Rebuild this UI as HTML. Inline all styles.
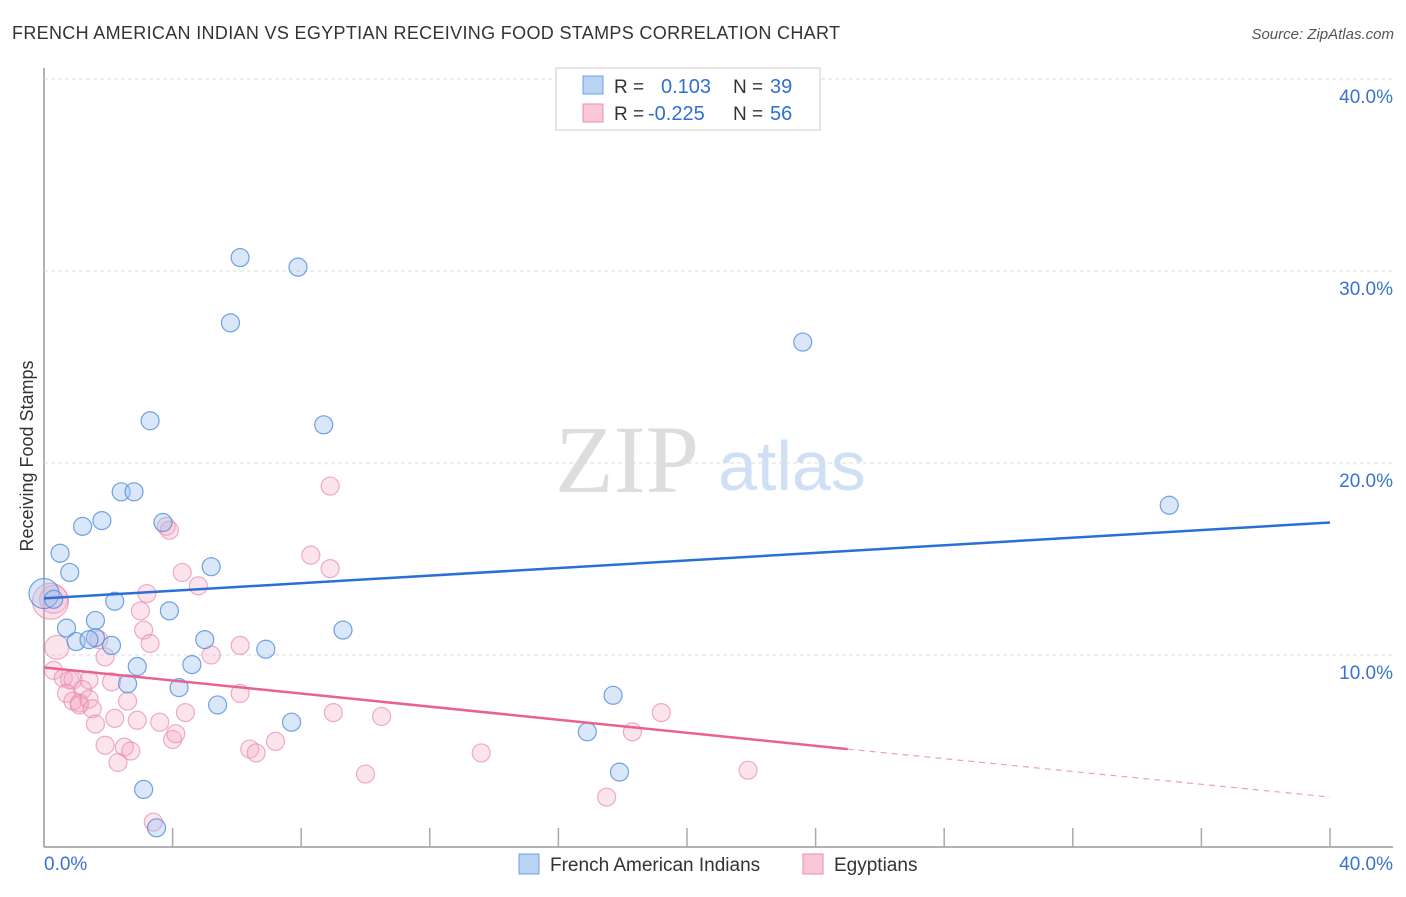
<!DOCTYPE html>
<html><head><meta charset="utf-8"><style>
body{margin:0;background:#fff;font-family:"Liberation Sans",sans-serif;}
svg text{font-family:"Liberation Sans",sans-serif;}
</style></head><body>
<svg id="chart" width="1406" height="892" xmlns="http://www.w3.org/2000/svg">
<text x="12" y="39" font-size="18" fill="#333" textLength="828">FRENCH AMERICAN INDIAN VS EGYPTIAN RECEIVING FOOD STAMPS CORRELATION CHART</text>
<text x="1394" y="39" font-size="15" fill="#555" text-anchor="end" font-style="italic">Source: ZipAtlas.com</text>
<text x="0" y="0" transform="translate(33,456) rotate(-90)" font-size="18" fill="#333" text-anchor="middle">Receiving Food Stamps</text>
<g><text x="555" y="492" font-size="96" fill="#ddd" style="font-family:'Liberation Serif',serif">ZIP</text><text x="718" y="490" font-size="70" fill="#cfe0f5">atlas</text></g>
<g id="grid"></g><g id="pts"></g><g id="lines"></g>
<g>
<rect x="556" y="68" width="264" height="62" fill="#fff" stroke="#ccc"/>
<rect x="583" y="76" width="20" height="18" fill="#b9d3f5" stroke="#6f9fe0"/>
<rect x="583" y="104" width="20" height="18" fill="#f9c7d7" stroke="#ea8fb0"/>
<text x="614" y="93" font-size="19" fill="#333">R = </text><text x="661" y="93" font-size="20" fill="#2f6fd4">0.103</text>
<text x="733" y="93" font-size="19" fill="#333">N = </text><text x="770" y="93" font-size="20" fill="#2f6fd4">39</text>
<text x="614" y="120" font-size="19" fill="#333">R = </text><text x="648" y="120" font-size="20" fill="#2f6fd4">-0.225</text>
<text x="733" y="120" font-size="19" fill="#333">N = </text><text x="770" y="120" font-size="20" fill="#2f6fd4">56</text>
</g>
<g>
<rect x="519" y="854" width="20" height="20" fill="#b9d3f5" stroke="#6f9fe0"/>
<text x="550" y="871" font-size="19" fill="#333">French American Indians</text>
<rect x="803" y="854" width="20" height="20" fill="#f9c7d7" stroke="#ea8fb0"/>
<text x="834" y="871" font-size="19" fill="#333">Egyptians</text>
</g>
</svg>
<script>
const xTicks=[0,4,8,12,16,20,24,28,32,36,40];
const yTicks=[10,20,30,40];
const blueX=[6.1,7.9,5.8,23.6,3.3,8.7,35,2.4,2.8,1.8,1.2,3.7,0.5,0.8,5.2,0,0.3,2.2,3.9,1.6,0.7,9.3,1.6,1.0,1.4,2.1,5,6.9,4.6,2.9,2.6,4.2,17.7,5.4,7.7,16.9,17.9,3.1,3.5];
const blueY=[30.7,30.2,27.3,26.3,22.2,21.99,17.8,18.5,18.5,17.0,16.7,16.9,15.3,14.3,14.6,13.2,12.9,12.8,12.3,11.8,11.4,11.3,10.9,10.7,10.8,10.5,10.8,10.3,9.5,9.4,8.5,8.3,7.9,7.4,6.5,6.0,3.9,3.0,1.0];
const blueR=[9,9,9,9,9,9,9,9,9,9,9,9,9,9,9,15,9,9,9,9,9,9,9,9,9,9,9,9,9,9,9,9,9,9,9,9,9,9,9];
const pinkX=[8.9,3.8,3.9,8.3,8.9,4.3,4.8,3.2,3.0,0.3,0.2,3.1,3.3,0.4,1.7,6.1,1.9,5.2,0.3,0.6,0.8,1.4,0.9,2.1,1.2,0.7,1.1,0.9,1.1,1.4,2.6,1.5,1.6,2.2,2.9,3.6,4.4,6.1,9.0,10.5,19.2,1.9,2.5,2.7,4.0,4.1,6.4,6.6,7.2,2.3,3.4,10.0,13.6,18.3,21.9,17.5];
const pinkY=[18.8,16.7,16.5,15.2,14.5,14.3,13.6,13.2,12.3,12.9,12.8,11.3,10.6,10.4,10.8,10.5,9.9,10.0,9.2,8.8,8.7,8.7,8.7,8.6,8.2,8.0,7.5,7.6,7.4,7.7,7.6,7.2,6.4,6.7,6.6,6.5,7.0,8.0,7.0,6.8,7.0,5.3,5.2,5.0,5.6,5.9,5.1,4.9,5.5,4.4,1.3,3.8,4.9,6.0,4.0,2.6];
const pinkR=[9,9,9,9,9,9,9,9,9,14,18,9,9,12,9,9,9,9,9,9,9,9,9,9,9,9,9,9,9,9,9,9,9,9,9,9,9,9,9,9,9,9,9,9,9,9,9,9,9,9,9,9,9,9,9,9];
const blueTrend=[[0,12.95],[40,16.9]];
const pinkTrend=[[0,9.35],[25,5.1],[40,2.6]];
const X=v=>44+v*32.15, Y=v=>847-v*19.2;
const NS="http://www.w3.org/2000/svg";
function mk(t,a,p){const e=document.createElementNS(NS,t);for(const k in a)e.setAttribute(k,a[k]);p.appendChild(e);return e;}
const grid=document.getElementById('grid');
mk('line',{x1:44,y1:68,x2:44,y2:847,stroke:'#999','stroke-width':1.5},grid);
mk('line',{x1:44,y1:847,x2:1393,y2:847,stroke:'#999','stroke-width':1.5},grid);
yTicks.forEach(v=>{
 const l=mk('line',{x1:44,y1:Y(v),x2:1393,y2:Y(v),stroke:'#ddd','stroke-dasharray':'4,3'},grid);
 
 
 const t=mk('text',{x:1393,y:Y(v)+24,'font-size':19,fill:'#3a72d0','text-anchor':'end'},grid);
 t.textContent=v.toFixed(1)+'%';
 
 
});
xTicks.forEach(v=>{
 if(v===0)return;
 const l=mk('line',{x1:X(v),y1:828,x2:X(v),y2:847,stroke:'#aaa','stroke-width':1.5},grid);
 
 
});
[[0,'start'],[40,'end']].forEach(([v,a])=>{
 const t=mk('text',{x:v===0?44:1393,y:870,'font-size':19,fill:'#3a72d0','text-anchor':a},grid);
 t.textContent=v.toFixed(1)+'%';
 
 
});
const pts=document.getElementById('pts');
pinkX.forEach((x,i)=>{
 const c=mk('circle',{cx:X(x),cy:Y(pinkY[i]),r:pinkR[i],fill:'rgba(245,170,198,0.32)',stroke:'rgba(230,130,168,0.65)','stroke-width':1.2},pts);
 
 
});
blueX.forEach((x,i)=>{
 const c=mk('circle',{cx:X(x),cy:Y(blueY[i]),r:blueR[i],fill:'rgba(160,195,240,0.4)',stroke:'rgba(80,140,220,0.8)','stroke-width':1.2},pts);
 
 
});
const lines=document.getElementById('lines');
const bl=mk('line',{x1:X(blueTrend[0][0]),y1:Y(blueTrend[0][1]),x2:X(blueTrend[1][0]),y2:Y(blueTrend[1][1]),stroke:'#2a6fd6','stroke-width':2.5},lines);


const pl=mk('line',{x1:X(pinkTrend[0][0]),y1:Y(pinkTrend[0][1]),x2:X(pinkTrend[1][0]),y2:Y(pinkTrend[1][1]),stroke:'#e8628f','stroke-width':2.5},lines);


const pd=mk('line',{x1:X(pinkTrend[1][0]),y1:Y(pinkTrend[1][1]),x2:X(pinkTrend[2][0]),y2:Y(pinkTrend[2][1]),stroke:'#e8a0b8','stroke-width':1.2,'stroke-dasharray':'6,5'},lines);


</script>
</body></html>
